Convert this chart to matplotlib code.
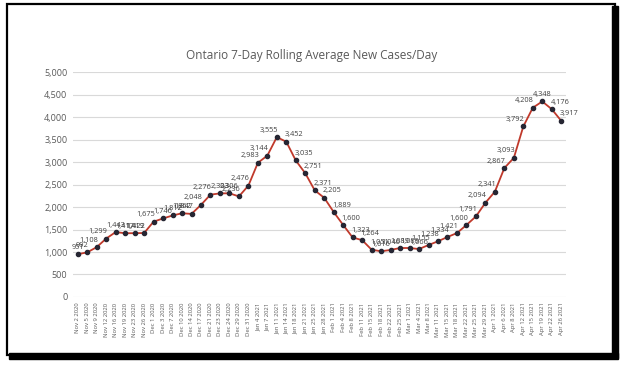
import matplotlib
matplotlib.use("Agg")
import matplotlib.pyplot as plt
from matplotlib.patches import Rectangle

# data
dates = ["Nov 2 2020", "Nov 5 2020", "Nov 9 2020", "Nov 12 2020", "Nov 16 2020",
         "Nov 19 2020", "Nov 23 2020", "Nov 26 2020", "Dec 1 2020", "Dec 3 2020",
         "Dec 7 2020", "Dec 10 2020", "Dec 14 2020", "Dec 17 2020", "Dec 21 2020",
         "Dec 23 2020", "Dec 24 2020", "Dec 29 2020", "Dec 31 2020", "Jan 4 2021",
         "Jan 7 2021", "Jan 11 2021", "Jan 14 2021", "Jan 18 2021", "Jan 21 2021",
         "Jan 25 2021", "Jan 28 2021", "Feb 1 2021", "Feb 4 2021", "Feb 8 2021",
         "Feb 11 2021", "Feb 15 2021", "Feb 18 2021", "Feb 22 2021", "Feb 25 2021",
         "Mar 1 2021", "Mar 4 2021", "Mar 8 2021", "Mar 11 2021", "Mar 15 2021",
         "Mar 18 2021", "Mar 22 2021", "Mar 25 2021", "Mar 29 2021", "Apr 1 2021",
         "Apr 6 2021", "Apr 8 2021", "Apr 12 2021", "Apr 15 2021", "Apr 19 2021",
         "Apr 22 2021", "Apr 26 2021"]
cases = [951, 992, 1108, 1299, 1443, 1417, 1419, 1422, 1675, 1746,
         1812, 1862, 1847, 2048, 2276, 2303, 2306, 2236, 2476, 2983,
         3144, 3555, 3452, 3035, 2751, 2371, 2205, 1889, 1600, 1323,
         1264, 1051, 1016, 1046, 1089, 1089, 1066, 1155, 1238, 1334,
         1421, 1600, 1791, 2094, 2341, 2867, 3093, 3792, 4208, 4348,
         4176, 3917]
yticks = [0, 500, 1000, 1500, 2000, 2500, 3000, 3500, 4000, 4500, 5000]

plt.rcParams['font.family'] = ['Open Sans', 'DejaVu Sans']

fig = plt.figure(figsize=(6.24, 3.68), dpi=100)
ax = fig.add_axes([0.117, 0.193, 0.79, 0.611])

x = list(range(len(cases)))
ax.plot(x, cases, color='#c0392b', lw=1.3, zorder=3)
ax.plot(x, cases, 'o', color='#262633', ms=3.0, zorder=4)

n = len(cases)
for i, v in enumerate(cases):
    prev = cases[i - 1] if i > 0 else v
    nxt = cases[i + 1] if i < n - 1 else v
    slope = nxt - prev
    if slope > 150:
        ha, dx = 'right', 1
    elif slope < -150:
        ha, dx = 'left', -1
    else:
        ha, dx = 'center', 0
    ax.annotate(f"{v:,}", (i, v), xytext=(dx, 2.5), textcoords='offset points',
                ha=ha, va='bottom', fontsize=5.3, color='#404040')

ax.set_xlim(-0.5, n - 0.5)
ax.set_ylim(0, 5000)
ax.set_yticks(yticks)
ax.set_yticklabels([f"{t:,}" for t in yticks], fontsize=6.5, color='#595959')
ax.set_xticks(x)
ax.set_xticklabels(dates, rotation=90, fontsize=4.2, color='#595959')
ax.tick_params(length=0, pad=4)
ax.grid(axis='y', color='#d9d9d9', lw=0.8)
ax.set_axisbelow(True)
for s in ax.spines.values():
    s.set_visible(False)

fig.text(0.5, 0.85, "Ontario 7-Day Rolling Average New Cases/Day",
         ha='center', va='center', fontsize=8.5, color='#595959')

# screenshot frame
fig.patches.append(Rectangle((7 / 624, 1 - 355 / 368), 608 / 624, 351 / 368,
                             transform=fig.transFigure, fill=False,
                             ec='black', lw=1.6))
fig.patches.append(Rectangle((612 / 624, 1 - 358 / 368), 6 / 624, 352 / 368,
                             transform=fig.transFigure, color='black'))
fig.patches.append(Rectangle((9 / 624, 1 - 359 / 368), 609 / 624, 6 / 368,
                             transform=fig.transFigure, color='black'))

fig.savefig("out.png", dpi=100)
